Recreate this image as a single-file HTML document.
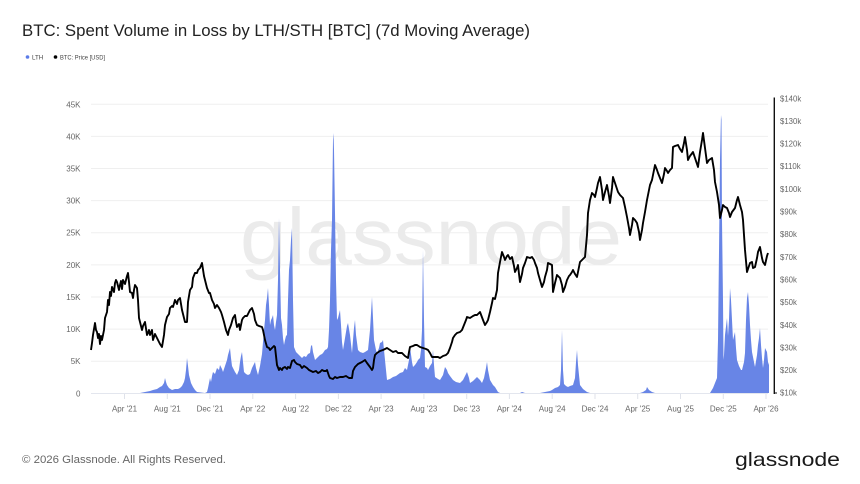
<!DOCTYPE html>
<html><head><meta charset="utf-8"><style>
html,body{margin:0;padding:0;background:#fff;}
svg{display:block;font-family:"Liberation Sans",Arial,sans-serif;}
</style></head><body>
<svg width="860" height="484" viewBox="0 0 860 484" xmlns="http://www.w3.org/2000/svg">
<rect width="860" height="484" fill="#fff"/>
<text x="22" y="36" font-size="16.5" fill="#222" textLength="508" lengthAdjust="spacingAndGlyphs">BTC: Spent Volume in Loss by LTH/STH [BTC] (7d Moving Average)</text>
<circle cx="27.5" cy="57" r="1.8" fill="#5b7be8"/>
<text x="32" y="59.3" font-size="6.2" fill="#444">LTH</text>
<circle cx="55.5" cy="57" r="1.8" fill="#000"/>
<text x="60" y="59.3" font-size="6.2" fill="#444" textLength="45" lengthAdjust="spacingAndGlyphs">BTC: Price [USD]</text>

<g stroke="#efefef" stroke-width="1">
<line x1="91" y1="104.3" x2="768" y2="104.3"/>
<line x1="91" y1="136.4" x2="768" y2="136.4"/>
<line x1="91" y1="168.5" x2="768" y2="168.5"/>
<line x1="91" y1="200.6" x2="768" y2="200.6"/>
<line x1="91" y1="232.7" x2="768" y2="232.7"/>
<line x1="91" y1="264.9" x2="768" y2="264.9"/>
<line x1="91" y1="297" x2="768" y2="297"/>
<line x1="91" y1="329.1" x2="768" y2="329.1"/>
<line x1="91" y1="361.2" x2="768" y2="361.2"/>
</g>
<line x1="91" y1="393.5" x2="768" y2="393.5" stroke="#e3e6ee" stroke-width="1"/>

<text x="431" y="264" font-size="80" fill="#ebebeb" text-anchor="middle" textLength="382" lengthAdjust="spacingAndGlyphs">glassnode</text>

<g font-size="8" fill="#666" text-anchor="end">
<text x="80.5" y="107.3">45K</text>
<text x="80.5" y="139.4">40K</text>
<text x="80.5" y="171.5">35K</text>
<text x="80.5" y="203.6">30K</text>
<text x="80.5" y="235.7">25K</text>
<text x="80.5" y="267.9">20K</text>
<text x="80.5" y="300">15K</text>
<text x="80.5" y="332.1">10K</text>
<text x="80.5" y="364.2">5K</text>
<text x="80.5" y="396.3">0</text>
</g>

<g font-size="7.8" fill="#666">
<text x="780" y="101.3">$140k</text>
<text x="780" y="123.9">$130k</text>
<text x="780" y="146.6">$120k</text>
<text x="780" y="169.2">$110k</text>
<text x="780" y="191.9">$100k</text>
<text x="780" y="214.5">$90k</text>
<text x="780" y="237.2">$80k</text>
<text x="780" y="259.8">$70k</text>
<text x="780" y="282.5">$60k</text>
<text x="780" y="305.1">$50k</text>
<text x="780" y="327.8">$40k</text>
<text x="780" y="350.4">$30k</text>
<text x="780" y="373.1">$20k</text>
<text x="780" y="395.7">$10k</text>
</g>
<line x1="774.3" y1="97.5" x2="774.3" y2="394" stroke="#111" stroke-width="1.4"/>
<line x1="774.3" y1="393" x2="777" y2="393" stroke="#111" stroke-width="1"/>

<g stroke="#dfe2ea" stroke-width="1">
<line x1="124.5" y1="394" x2="124.5" y2="399"/>
<line x1="167.3" y1="394" x2="167.3" y2="399"/>
<line x1="210" y1="394" x2="210" y2="399"/>
<line x1="252.8" y1="394" x2="252.8" y2="399"/>
<line x1="295.6" y1="394" x2="295.6" y2="399"/>
<line x1="338.4" y1="394" x2="338.4" y2="399"/>
<line x1="381.1" y1="394" x2="381.1" y2="399"/>
<line x1="423.9" y1="394" x2="423.9" y2="399"/>
<line x1="466.7" y1="394" x2="466.7" y2="399"/>
<line x1="509.4" y1="394" x2="509.4" y2="399"/>
<line x1="552.2" y1="394" x2="552.2" y2="399"/>
<line x1="595" y1="394" x2="595" y2="399"/>
<line x1="637.7" y1="394" x2="637.7" y2="399"/>
<line x1="680.5" y1="394" x2="680.5" y2="399"/>
<line x1="723.3" y1="394" x2="723.3" y2="399"/>
<line x1="766" y1="394" x2="766" y2="399"/>
</g>
<g font-size="8" fill="#666" text-anchor="middle">
<text x="124.5" y="411.5">Apr '21</text>
<text x="167.3" y="411.5">Aug '21</text>
<text x="210" y="411.5">Dec '21</text>
<text x="252.8" y="411.5">Apr '22</text>
<text x="295.6" y="411.5">Aug '22</text>
<text x="338.4" y="411.5">Dec '22</text>
<text x="381.1" y="411.5">Apr '23</text>
<text x="423.9" y="411.5">Aug '23</text>
<text x="466.7" y="411.5">Dec '23</text>
<text x="509.4" y="411.5">Apr '24</text>
<text x="552.2" y="411.5">Aug '24</text>
<text x="595" y="411.5">Dec '24</text>
<text x="637.7" y="411.5">Apr '25</text>
<text x="680.5" y="411.5">Aug '25</text>
<text x="723.3" y="411.5">Dec '25</text>
<text x="766" y="411.5">Apr '26</text>
</g>

<path fill="#6885e6" d="M140,393 L145,392 150,391 153,390 157,389 160,387 162,386 164,383 165,378 166,382 167,385 169,388 172,390 175,389 178,389 180,388 182,386 184,382 185,378 186,370 187,358 188,366 189,375 191,383 193,387 195,390 197,392 205,393 207,392 208,388 210,378 211,382 212,376 213,372 215,374 217,368 219,370 220,365 222,369 223,372 225,366 227,360 228,355 230,348 231,358 232,366 233,368 235,372 237,375 239,370 240,362 241,356 242,352 243,362 244,372 246,374 248,375 250,374 252,368 254,364 255,362 256,368 258,375 260,366 261,360 262,354 263,342 264,330 265,320 266,305 267,298 268,288 269,305 270,325 271,320 272,318 273,315 274,325 275,330 276,322 277,315 278,280 279,218 280,270 281,318 282,325 283,338 284,345 285,340 286,336 287,335 288,300 289,270 290,260 291,240 292,228 293,300 294,347 296,352 298,354 300,356 302,358 304,356 306,357 308,354 310,353 311,346 312,345 313,352 315,360 317,358 318,357 320,355 322,354 323,353 325,350 327,349 328,347 329,330 330,300 331,250 332,220 333,140 333.5,133 334,150 335,213 336,280 337,320 338,318 340,310 341,325 342,342 343,350 345,338 347,326 348,323 350,335 352,353 353,340 354,328 355,320 356,335 358,350 360,352 363,353 365,352 368,350 370,330 372,297 373,318 374,340 376,350 377,353 379,348 380,343 382,342 383,340 385,360 387,380 390,379 393,377 396,376 400,373 403,372 405,368 407,370 409,360 410,347 412,362 413,367 415,365 417,362 418,360 420,358 421,350 422,330 423,250 424,320 425,367 427,368 428,370 430,366 432,363 433,350 434,365 435,377 438,379 440,380 443,375 445,367 447,370 448,373 450,376 453,380 456,382 460,383 463,380 465,376 467,372 469,378 470,383 473,381 477,377 480,380 482,383 484,378 486,368 487,362 488,370 490,380 493,385 495,387 498,392 500,393 520,393 522,392 525,393 540,393 545,392 550,391 552,390 555,388 558,387 560,385 561,370 562,330 563,370 564,384 566,386 568,387 570,386 573,385 575,378 576,362 577,350 578,365 580,385 583,389 587,392 590,393 640,393 643,392 646,390 647,387 649,390 652,392 655,393 710,393 713,388 715,383 717,378 718,340 719,252 720,160 721,115 721.5,120 722,220 723,300 723.5,360 724,355 725,335 727,318 728,336 729,320 730,288 731,300 732,320 733,340 735,332 736,348 737,360 739,366 741,370 742,370 744,362 745,353 746,320 747,298 748,292 749,305 750,325 751,340 752,352 754,362 755,367 757,355 758,345 759,338 760,328 761,345 762,358 763,368 764,360 765,348 766,350 767,352 768,362 769,365 769,393 Z"/>

<polyline fill="none" stroke="#000" stroke-width="1.9" stroke-linejoin="round" points="91,350 92,343 93,335 95,323 96,330 97,332 98,338 99,334 100,344 101,336 102,340 104,330 105,318 107,312 108,300 109,305 110,292 111,296 112,287 114,292 115,283 116,280 117,282 119,290 120,285 121,281 122,289 123,280 125,284 127,276 128,273 129,282 130,292 132,293 133,298 134,290 135,285 137,288 138,300 139,318 140,322 142,330 143,326 145,322 147,335 148,333 149,330 150,335 152,330 153,340 155,334 157,338 159,342 160,344 162,347 164,335 165,325 167,317 169,314 170,308 172,306 173,307 175,300 177,304 178,300 180,298 182,310 184,318 185,322 187,322 188,302 190,290 192,287 193,278 195,273 197,273 198,270 200,268 202,263 204,276 205,280 207,288 209,293 210,293 212,300 214,304 215,308 217,305 219,308 221,312 222,315 224,322 226,330 228,335 229,330 231,325 233,318 235,315 236,322 237,327 239,324 240,330 242,320 243,318 245,316 247,316 249,312 250,310 252,308 254,314 255,320 257,325 259,326 262,327 263,330 265,340 267,347 269,348 270,350 272,348 274,346 275,347 276,356 277,365 279,370 280,368 282,370 283,368 285,367 287,369 288,367 290,368 292,361 294,360 295,362 297,364 300,365 302,368 304,366 307,368 309,370 311,371 313,372 316,371 318,373 320,372 322,370 324,371 326,371 327,370 329,376 330,378 333,379 335,377 337,378 340,377 343,377 346,376 349,378 352,378 353,371 355,367 358,364 360,363 362,362 365,360 367,363 370,367 372,370 373,368 374,360 375,355 377,353 380,351 383,350 385,349 387,348 390,350 393,352 396,351 398,353 402,353 405,356 408,358 409,352 410,347 413,346 415,345 417,345 420,347 423,348 426,349 428,350 430,353 432,357 434,357 436,357 438,357 440,358 443,356 446,355 448,353 450,348 452,342 453,338 455,335 457,333 460,332 462,330 464,325 466,320 467,317 470,318 473,316 475,315 477,315 480,312 483,320 485,325 487,322 488,320 490,312 492,303 493,298 495,299 497,290 498,273 500,262 502,252 504,257 505,260 507,256 508,255 510,259 512,257 514,266 515,272 517,268 518,265 519,274 520,282 522,274 523,268 525,263 527,257 530,258 532,257 534,260 535,263 537,268 538,273 540,280 542,287 544,282 545,277 547,270 548,263 550,264 552,265 553,292 555,283 557,275 559,277 560,278 562,285 563,292 565,287 567,280 569,276 570,275 572,272 573,270 575,274 577,277 580,262 582,260 584,258 585,257 587,235 588,213 590,200 592,193 594,195 595,197 597,188 598,183 600,177 602,190 603,200 605,192 607,185 609,196 610,203 612,188 613,177 615,183 618,192 620,195 623,198 625,207 627,217 629,228 630,235 632,225 633,218 635,220 637,223 639,232 640,240 642,230 643,223 645,212 647,200 649,190 650,185 652,180 654,170 655,165 657,170 658,173 660,178 662,183 664,174 665,168 667,171 668,173 670,170 672,168 673,147 675,146 678,145 680,149 682,152 684,143 685,137 687,150 688,160 690,156 693,152 695,158 698,167 700,152 702,140 703,133 705,148 707,163 709,160 712,158 714,170 715,182 717,192 719,205 720,218 722,210 723,205 725,207 727,208 729,213 730,217 732,212 735,208 737,200 738,197 740,205 742,212 743,220 745,250 747,272 749,266 750,263 752,262 753,268 755,267 757,258 758,252 760,247 762,258 763,262 765,265 767,256 768,253"/>

<text x="22" y="463" font-size="11.4" fill="#666" textLength="204" lengthAdjust="spacingAndGlyphs">© 2026 Glassnode. All Rights Reserved.</text>
<text x="735" y="466" font-size="19.5" fill="#1a1a1a" textLength="105" lengthAdjust="spacingAndGlyphs">glassnode</text>
</svg>
</body></html>
